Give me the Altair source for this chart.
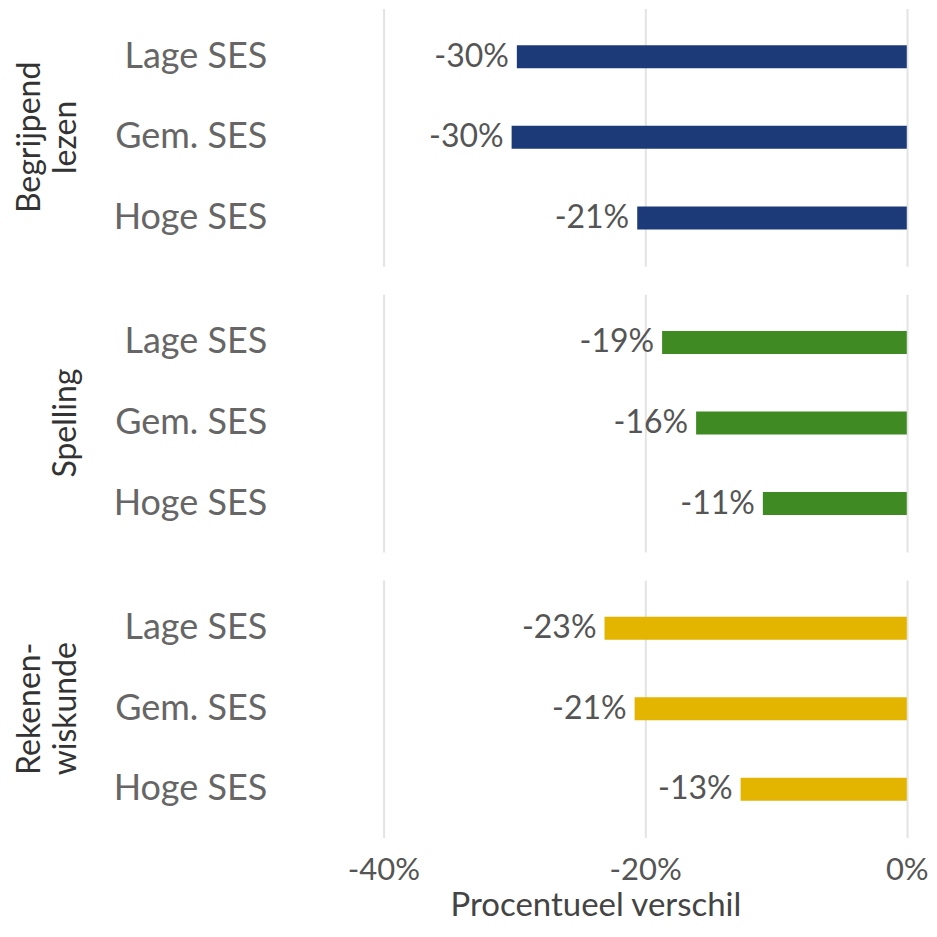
import altair as alt
import pandas as pd

subjects = ["Begrijpend|lezen", "Spelling", "Rekenen-|wiskunde"]
groups = ["Lage SES", "Gem. SES", "Hoge SES"]
values_begrijpend = [-0.298, -0.302, -0.206]
values_spelling = [-0.187, -0.161, -0.110]
values_rekenen = [-0.231, -0.208, -0.127]
colors = ["#1c3a78", "#3f8a22", "#e3b400"]

rows = []
for s, vals in zip(subjects, [values_begrijpend, values_spelling, values_rekenen]):
    for g, v in zip(groups, vals):
        rows.append({"subject": s, "group": g, "value": v})
df = pd.DataFrame(rows)

FONT = "Lato"

base = alt.Chart(df).transform_calculate(
    label="replace(format(datum.value, '.0%'), '\u2212', '-')"
)

bars = base.mark_bar(size=23).encode(
    x=alt.X(
        "value:Q",
        scale=alt.Scale(domain=[-0.48, 0.004], nice=False, zero=False),
        axis=alt.Axis(
            values=[-0.4, -0.2, 0],
            labelExpr="replace(format(datum.value, '.0%'), '\u2212', '-')",
            title="Procentueel verschil",
            grid=True,
            gridColor="#e3e3e3",
            gridWidth=2,
            domain=False,
            ticks=False,
            labelFontSize=31,
            labelColor="#555555",
            labelPadding=18,
            titleFontSize=33,
            titleColor="#444444",
            titleFontWeight="normal",
            titlePadding=4,
            labelFont=FONT,
            titleFont=FONT,
        ),
    ),
    y=alt.Y(
        "group:N",
        sort=groups,
        scale=alt.Scale(paddingOuter=0.1, paddingInner=0),
        axis=alt.Axis(
            title=None,
            ticks=False,
            domain=False,
            grid=False,
            labelFontSize=36,
            labelColor="#666666",
            labelPadding=12,
            labelFont=FONT,
        ),
    ),
    color=alt.Color(
        "subject:N",
        scale=alt.Scale(domain=subjects, range=colors),
        legend=None,
    ),
)

text = base.mark_text(
    align="right", baseline="middle", dx=-8, fontSize=32, color="#555555", font=FONT
).encode(
    x=alt.X("value:Q"),
    y=alt.Y("group:N", sort=groups),
    text="label:N",
)

chart = (
    alt.layer(bars, text)
    .properties(width=634, height=258)
    .facet(
        row=alt.Row(
            "subject:N",
            sort=subjects,
            header=alt.Header(
                title=None,
                labelExpr="split(datum.value, '|')",
                labelAngle=-90,
                labelOrient="left",
                labelFontSize=32,
                labelColor="#333333",
                labelFont=FONT,
                labelPadding=15,
                labelLineHeight=36,
            ),
        ),
        spacing=28,
    )
    .configure(
        padding={"left": 6, "top": 0, "right": 0, "bottom": 0},
        style={"cell": {"stroke": "transparent"}},
    )
    .configure_view(stroke="transparent", strokeWidth=0)
)

chart.save("out.html", embed_options={"renderer": "svg", "actions": False})
